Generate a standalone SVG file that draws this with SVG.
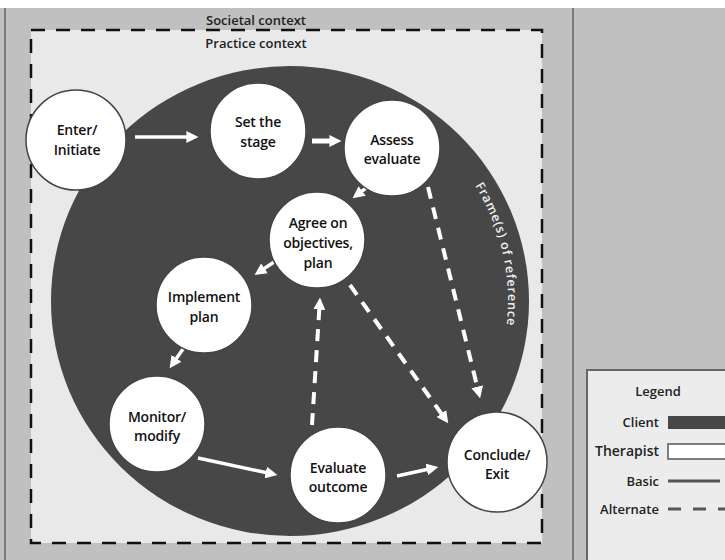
<svg xmlns="http://www.w3.org/2000/svg" width="725" height="560" viewBox="0 0 725 560">
<style>
.lbl{font-family:"Open Sans","Liberation Sans",sans-serif;font-size:14px;font-weight:600;fill:#111;text-anchor:middle;letter-spacing:-0.2px}
.ctx{font-family:"Open Sans","Liberation Sans",sans-serif;font-size:13px;font-weight:600;fill:#222;text-anchor:middle}
.node{fill:#fff;stroke:#444;stroke-width:1.5}
.solid{stroke:#fff;stroke-width:3.5;fill:none;marker-end:url(#ah)}
.dash{stroke:#fff;stroke-width:4;fill:none;stroke-dasharray:12 9;marker-end:url(#ah)}
.leg{font-family:"Open Sans","Liberation Sans",sans-serif;font-size:13px;font-weight:600;fill:#222;text-anchor:end}
</style>
<defs>
<marker id="ah" markerUnits="userSpaceOnUse" markerWidth="12" markerHeight="12" viewBox="0 0 10 10" refX="3" refY="5" orient="auto">
<path d="M0,0 L10,5 L0,10 z" fill="#fff"/>
</marker>
<path id="frp" d="M474.9,185.5 A218,218 0 0,1 494.9,375.6"/>
</defs>
<g id="background">
<rect x="0" y="0" width="725" height="560" fill="#fff"/>
<rect x="0" y="8" width="725" height="552" fill="#c0c0c0"/>
<line x1="5" y1="8" x2="5" y2="560" stroke="#7a7a7a" stroke-width="2"/>
<line x1="573" y1="8" x2="573" y2="560" stroke="#7a7a7a" stroke-width="2"/>
<text class="ctx" x="256" y="25">Societal context</text>
</g>
<g id="practice">
<rect x="31" y="30" width="511" height="513" fill="#e9e9e9" stroke="#111" stroke-width="2.5" stroke-dasharray="14 11"/>
<text class="ctx" x="256" y="48">Practice context</text>
</g>
<g id="client-area">
<ellipse cx="290" cy="301" rx="239" ry="235" fill="#474747"/>
<text font-family="Open Sans, Liberation Sans, sans-serif" font-size="12.5" font-weight="600" fill="#f0f0f0" letter-spacing="0.8"><textPath href="#frp">Frame(s) of reference</textPath></text>
</g>
<g id="connectors">
<line class="solid" x1="135" y1="137" x2="190" y2="137"/>
<line x1="312" y1="141" x2="333" y2="141" stroke="#fff" stroke-width="5" marker-end="url(#ah)"/>
<line class="solid" x1="370" y1="185" x2="359.3" y2="193.1"/>
<line class="solid" x1="274" y1="262" x2="261.5" y2="270.4"/>
<line class="solid" x1="183" y1="349" x2="174.4" y2="361.3"/>
<line class="solid" x1="198" y1="458" x2="269.2" y2="473.3"/>
<line class="solid" x1="397" y1="476" x2="430.2" y2="468.7"/>
<line class="dash" x1="312" y1="425" x2="319.5" y2="306"/>
<line class="dash" x1="350" y1="285" x2="443.4" y2="416.5"/>
<line class="dash" x1="428" y1="187" x2="478.1" y2="390.2"/>
</g>
<g id="enter"><circle class="node" cx="76" cy="140" r="50"/><text class="lbl" x="77" y="135">Enter/</text><text class="lbl" x="77" y="155">Initiate</text></g>
<g id="setstage"><circle class="node" cx="258" cy="131" r="48"/><text class="lbl" x="258" y="127">Set the</text><text class="lbl" x="258" y="147">stage</text></g>
<g id="assess"><circle class="node" cx="392" cy="148" r="48"/><text class="lbl" x="392" y="145">Assess</text><text class="lbl" x="392" y="164">evaluate</text></g>
<g id="agree"><circle class="node" cx="317" cy="240" r="48"/><text class="lbl" x="318" y="228">Agree on</text><text class="lbl" x="318" y="248">objectives,</text><text class="lbl" x="318" y="268">plan</text></g>
<g id="implement"><circle class="node" cx="204" cy="305" r="48"/><text class="lbl" x="204" y="302">Implement</text><text class="lbl" x="204" y="322">plan</text></g>
<g id="monitor"><circle class="node" cx="157" cy="424" r="48"/><text class="lbl" x="157" y="422">Monitor/</text><text class="lbl" x="157" y="441">modify</text></g>
<g id="evaluate"><circle class="node" cx="338" cy="475" r="48"/><text class="lbl" x="338" y="473">Evaluate</text><text class="lbl" x="338" y="492">outcome</text></g>
<g id="conclude"><circle class="node" cx="497" cy="462" r="50"/><text class="lbl" x="497" y="460">Conclude/</text><text class="lbl" x="497" y="479">Exit</text></g>
<g id="legend">
<rect x="587" y="370" width="140" height="192" fill="#ececec" stroke="#666" stroke-width="2"/>
<text class="leg" x="658" y="396" style="text-anchor:middle">Legend</text>
<text class="leg" x="659" y="427">Client</text>
<rect x="668" y="416" width="60" height="13" fill="#474747"/>
<text class="leg" x="659" y="456" style="font-size:14px">Therapist</text>
<rect x="668" y="444" width="60" height="15" fill="#fff" stroke="#555" stroke-width="1.5"/>
<text class="leg" x="659" y="486">Basic</text>
<line x1="668" y1="481" x2="720" y2="481" stroke="#555" stroke-width="3"/>
<text class="leg" x="659" y="514">Alternate</text>
<line x1="668" y1="509" x2="725" y2="509" stroke="#555" stroke-width="3" stroke-dasharray="13 12"/>
</g>
</svg>
